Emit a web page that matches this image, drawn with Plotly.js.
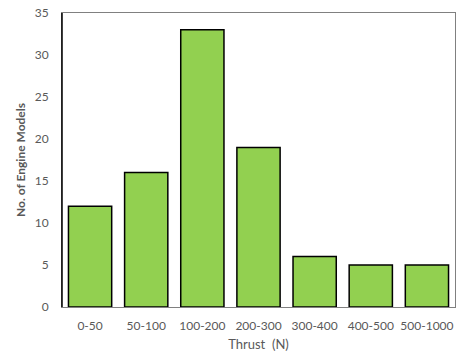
<!DOCTYPE html>
<html><head><meta charset="utf-8">
<script src="https://cdn.plot.ly/plotly-3.0.1.min.js"></script>
<style>html,body{margin:0;padding:0;background:#fff}#chart{width:468px;height:359px}</style>
</head><body><div id="chart"></div>
<script>
const categories = ["0-50","50-100","100-200","200-300","300-400","400-500","500-1000"];
const engineCounts = [12,16,33,19,6,5,5];
const yTicks = [0,5,10,15,20,25,30,35];

const trace = {
  type: "bar",
  x: categories,
  y: engineCounts,
  marker: {color: "#92d050", line: {color: "#000000", width: 1.5}},
  hoverinfo: "x+y"
};
const fam = "Lato, 'Open Sans', sans-serif";
const layout = {
  width: 468, height: 359,
  margin: {l: 62, r: 13, t: 13, b: 52},
  paper_bgcolor: "#fff", plot_bgcolor: "#fff",
  font: {family: fam, size: 12, color: "#595959"},
  bargap: 0.23,
  showlegend: false,
  xaxis: {
    type: "category",
    showline: true, linecolor: "#808080", linewidth: 1, mirror: true,
    ticks: "", ticklabelstandoff: 8,
    tickfont: {family: fam, size: 12, color: "#595959"},
    title: {text: "Thrust  (N)", font: {family: fam, size: 13, color: "#595959"}, standoff: 7},
    automargin: false
  },
  yaxis: {
    range: [0, 35], tickvals: yTicks,
    showgrid: false, zeroline: false,
    showline: true, linecolor: "#808080", linewidth: 1, mirror: true,
    ticks: "", ticklabelstandoff: 10,
    tickfont: {family: fam, size: 12, color: "#595959"},
    title: {text: "<b>No. of Engine Models</b>", font: {family: fam, size: 12, color: "#595959"}, standoff: 6},
    automargin: false
  },
  shapes: [{type: "line", xref: "paper", yref: "paper", x0: 0, x1: 0, y0: 0, y1: 1, line: {color: "#000", width: 1.5}}]
};
Plotly.newPlot("chart", [trace], layout, {displayModeBar: false, staticPlot: true});
</script></body></html>
